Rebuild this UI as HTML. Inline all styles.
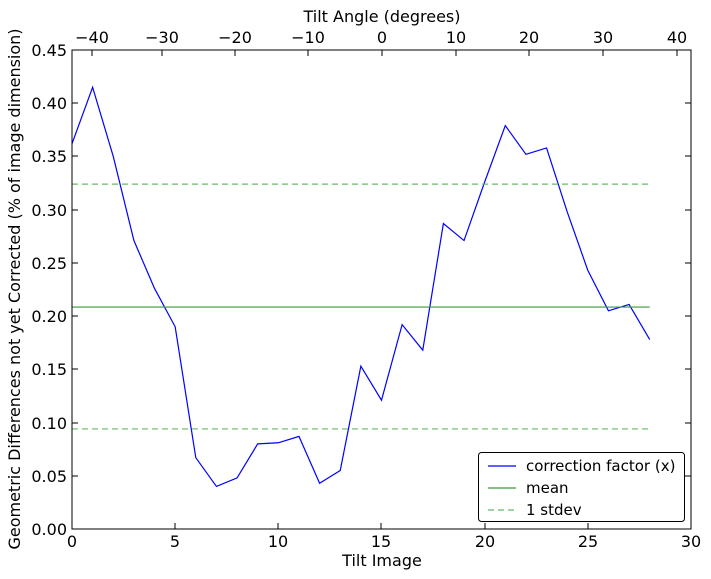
<!DOCTYPE html>
<html><head><meta charset="utf-8"><style>body{margin:0;background:#fff}svg{display:block}text{font-family:"DejaVu Sans",sans-serif;font-size:16px;fill:#000}text.lg{font-size:15px}</style></head><body>
<svg width="711" height="579" xmlns="http://www.w3.org/2000/svg">
<rect width="711" height="579" fill="#fff"/>
<g transform="translate(72,529) scale(20.633,-1064.4)" fill="none">
<polyline vector-effect="non-scaling-stroke" stroke="#0000ff" stroke-width="1.2" points="0,0.362 1,0.415 2,0.350 3,0.271 4,0.226 5,0.190 6,0.067 7,0.040 8,0.048 9,0.080 10,0.081 11,0.087 12,0.043 13,0.055 14,0.153 15,0.121 16,0.192 17,0.168 18,0.287 19,0.271 20,0.326 21,0.379 22,0.352 23,0.358 24,0.298 25,0.243 26,0.205 27,0.211 28,0.178"/>
<line vector-effect="non-scaling-stroke" x1="0" x2="28" y1="0.2085" y2="0.2085" stroke="#3a9a3a" stroke-width="1.2"/>
<line vector-effect="non-scaling-stroke" x1="0" x2="28" y1="0.324" y2="0.324" stroke="#66bb66" stroke-width="1.2" stroke-dasharray="6,4"/>
<line vector-effect="non-scaling-stroke" x1="0" x2="28" y1="0.094" y2="0.094" stroke="#66bb66" stroke-width="1.2" stroke-dasharray="6,4"/>
</g>
<rect x="72" y="50" width="619" height="479" fill="none" stroke="#000" stroke-width="1"/>
<g stroke="#000" stroke-width="1">
<path d="M72,529v-6M175,529v-6M278,529v-6M381,529v-6M485,529v-6M588,529v-6M691,529v-6"/>
<path d="M92,50v6M162,50v6M235,50v6M308,50v6M382,50v6M456,50v6M529,50v6M603,50v6M677,50v6"/>
<path d="M72,529h6M72,476h6M72,423h6M72,369h6M72,316h6M72,263h6M72,210h6M72,156h6M72,103h6M72,50h6"/>
<path d="M691,529h-6M691,476h-6M691,423h-6M691,369h-6M691,316h-6M691,263h-6M691,210h-6M691,156h-6M691,103h-6M691,50h-6"/>
</g>
<g text-anchor="middle">
<text x="72" y="547">0</text><text x="175" y="547">5</text><text x="278" y="547">10</text><text x="381" y="547">15</text><text x="485" y="547">20</text><text x="588" y="547">25</text><text x="691" y="547">30</text>
<text x="382" y="566">Tilt Image</text>
<text x="92" y="43">−40</text><text x="162" y="43">−30</text><text x="235" y="43">−20</text><text x="308" y="43">−10</text><text x="382" y="43">0</text><text x="456" y="43">10</text><text x="529" y="43">20</text><text x="603" y="43">30</text><text x="677" y="43">40</text>
<text x="382" y="22">Tilt Angle (degrees)</text>
</g>
<g text-anchor="end">
<text x="67" y="535">0.00</text><text x="67" y="482">0.05</text><text x="67" y="429">0.10</text><text x="67" y="375">0.15</text><text x="67" y="322">0.20</text><text x="67" y="269">0.25</text><text x="67" y="216">0.30</text><text x="67" y="162">0.35</text><text x="67" y="109">0.40</text><text x="67" y="56">0.45</text>
</g>
<text transform="translate(20,289) rotate(-90)" text-anchor="middle">Geometric Differences not yet Corrected (% of image dimension)</text>
<rect x="478.5" y="452.5" width="206" height="69" fill="#fff" stroke="#000" rx="3"/>
<line x1="488" x2="516" y1="466" y2="466" stroke="#0000ff" stroke-width="1.2"/>
<line x1="488" x2="516" y1="488" y2="488" stroke="#3a9a3a" stroke-width="1.2"/>
<line x1="488" x2="516" y1="510" y2="510" stroke="#66bb66" stroke-width="1.2" stroke-dasharray="6,4"/>
<text class="lg" x="526" y="471">correction factor (x)</text>
<text class="lg" x="526" y="493">mean</text>
<text class="lg" x="526" y="515">1 stdev</text>
</svg>
</body></html>
